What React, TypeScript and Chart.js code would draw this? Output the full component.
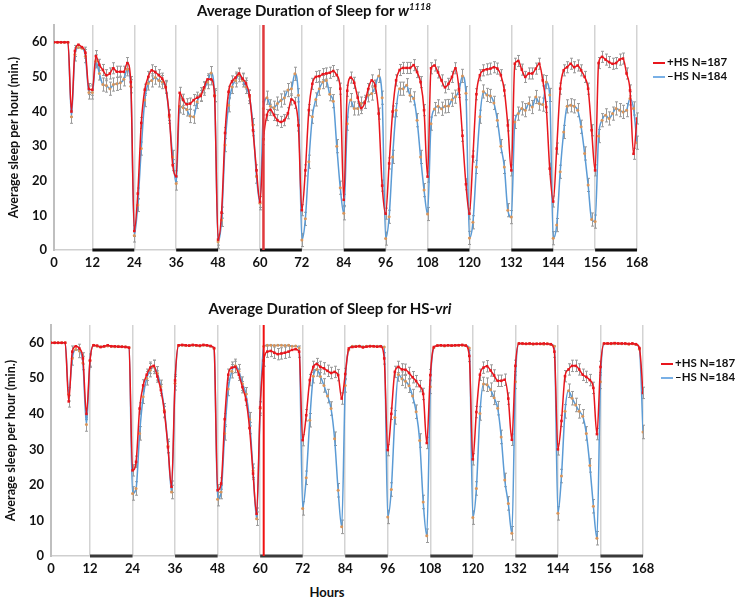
import React, { useEffect, useRef } from 'react';
import { Chart, registerables } from 'chart.js';

Chart.register(...registerables);

// ---------- categories / ticks ----------
const HOURS = Array.from({ length: 168 }, (_, i) => i + 1);
const X_TICKS = [1, 12, 24, 36, 48, 60, 72, 84, 96, 108, 120, 132, 144, 156, 168];
const X_TICK_LABELS = ['0', '12', '24', '36', '48', '60', '72', '84', '96', '108', '120', '132', '144', '156', '168'];
const Y_TICKS = [0, 10, 20, 30, 40, 50, 60];
const DARK_STARTS = [12, 36, 60, 84, 108, 132, 156];
const DARK_LENGTH = 12;
const PULSE_HOUR = 61;

// ---------- w1118 ----------
const W1118_PLUS = [
  60, 60, 60, 60, 60, 40, 57.5, 59.3, 58.6, 57, 46.5, 46.3,
  56, 53.5, 52, 50.5, 51, 52.5, 51.5, 51.5, 51.5, 54, 48.5, 5.5,
  16.3, 36.7, 46.3, 50, 51.9, 51.4, 50.5, 49.5, 47, 39, 24.5, 21.3,
  45.4, 43.4, 42.1, 42.3, 43.3, 44, 44.5, 47, 49.3, 49.3, 44.5, 3,
  10.8, 33.8, 45.7, 48.7, 49.8, 51, 49.5, 48.1, 44.7, 34.6, 23, 13.9,
  32, 39, 40.5, 39, 37.5, 37, 37.5, 39.5, 43.5, 42.5, 36, 11.5,
  23, 40.4, 48, 50, 50.2, 50.8, 51, 51.2, 51.7, 50.5, 46.6, 14.5,
  46, 49.8, 48.3, 44, 41, 42.5, 46.5, 49, 47.5, 39.4, 18.6, 10.5,
  25, 40, 49, 52, 52.6, 52.6, 52.6, 53.4, 51.4, 48.5, 40.4, 21.2,
  52.5, 53.3, 51.3, 49, 47, 48, 50, 52.5, 46.5, 33, 19, 10.5,
  27, 45, 50.5, 51.9, 52.2, 52.4, 52.8, 52.4, 50.5, 46.1, 36, 23,
  53.8, 54.6, 52.1, 50, 51, 51, 52.4, 53.8, 49, 41.3, 23.5, 14,
  29.3, 46.6, 51.9, 52.8, 53.8, 52.8, 53.3, 51.9, 50, 46.6, 34.6, 23,
  54, 55.8, 55, 54.3, 53.8, 54, 55, 55.3, 51, 46.1, 27.8, 38,
];
const W1118_MINUS = [
  60, 60, 60, 60, 60, 38.5, 56.5, 58.5, 58.3, 56, 45.5, 45.5,
  54.5, 51, 47.8, 47.5, 46.6, 47.8, 48, 48.3, 49.3, 52.2, 47.3, 4.2,
  13, 29.3, 43.3, 48.1, 49, 49.8, 49, 48.5, 47.1, 38.5, 26.9, 19.2,
  41.5, 41.1, 40.6, 38.7, 38.5, 42.8, 45, 46.6, 48.5, 51.1, 44.7, 2.4,
  8.7, 30.3, 41.8, 47.1, 49, 50.5, 49, 47.1, 44.2, 36.1, 21.2, 13.5,
  40.9, 44, 41.5, 41.1, 42.3, 43.2, 44, 46.2, 46.6, 50.9, 44.7, 2.9,
  9, 25.5, 38.5, 43.5, 46.6, 48.5, 49, 45, 43, 30, 18, 10.6,
  36.5, 43.3, 40.9, 40.9, 42.3, 42.8, 44.7, 45.2, 47.1, 50.3, 44, 3.3,
  9.6, 26.9, 40.4, 46.6, 46.6, 47.6, 44.7, 43.8, 37.5, 26.9, 17.3, 10.4,
  36.5, 40.7, 41.5, 40.8, 41.5, 41.6, 43.4, 44.3, 46, 50.3, 45.3, 3.5,
  8, 24, 38.5, 45.8, 44.8, 44.5, 42.5, 37.5, 30, 24, 11.5, 9.5,
  37, 39.4, 40.9, 40.4, 42.3, 41.3, 44.2, 42.3, 42, 48.5, 44.8, 3.4,
  7.2, 22.6, 34.1, 41.5, 41.8, 41.5, 40.4, 35.6, 27.9, 18.8, 8.8, 8.2,
  32.9, 37.5, 38.9, 38, 39.4, 40.9, 40.4, 39.9, 40.4, 43.8, 40.9, 31,
];

// ---------- HS-vri ----------
const VRI_PLUS = [
  60, 60, 60, 60, 60, 43.5, 57.5, 59, 58.4, 55.6, 40, 55,
  59.3, 59.2, 58.8, 59, 59.3, 59, 59, 58.9, 58.9, 58.8, 58.6, 24.1,
  26.5, 41.5, 48, 51, 53, 53.5, 50.5, 46.7, 40.5, 30.6, 19.5, 49.4,
  59.3, 59.4, 59.3, 59.2, 59.4, 59.3, 59.2, 59.4, 59.3, 59.1, 58.5, 18.5,
  20.4, 38.5, 51, 53, 53.2, 51, 47.5, 44, 36, 23.2, 11.9, 41.8,
  55, 57.5, 57.7, 57.2, 56.8, 57, 57.2, 57.5, 58, 58.2, 57.5, 32.6,
  39.6, 49.5, 53.2, 54, 53.2, 52.8, 52.1, 51.5, 51.8, 50.9, 44.3, 51.2,
  58.4, 58.8, 58.9, 59, 58.7, 58.9, 59, 59, 58.9, 59, 55.6, 29.8,
  40, 51.8, 53.2, 52.5, 52.4, 51.5, 50.3, 49.2, 47.8, 45.6, 31.8, 50.9,
  58.8, 59.2, 59.3, 59.2, 59.3, 59.2, 59.3, 59.3, 59.4, 59.2, 56.3, 27.2,
  40.5, 51, 53, 53.4, 52.2, 50.8, 49.3, 49.3, 49.6, 44.3, 32.7, 53.5,
  59.8, 59.8, 59.7, 59.8, 59.7, 59.7, 59.7, 59.8, 59.7, 59.6, 57.5, 30,
  38, 50.6, 52.5, 53.5, 53.5, 52.5, 51, 50.4, 49.5, 47.3, 34.3, 53.2,
  59.8, 59.8, 59.8, 59.9, 59.8, 59.8, 59.8, 59.7, 59.8, 59.6, 58.5, 45.9,
];
const VRI_MINUS = [
  60, 60, 60, 60, 60, 45.5, 55.6, 58.1, 57.7, 54.3, 37, 55,
  59.3, 59, 58.9, 59, 59.1, 59, 58.9, 59, 58.9, 58.9, 58.7, 17.6,
  19, 34.5, 44.8, 50, 52.3, 53.2, 51.4, 47.6, 41, 31, 18, 48.6,
  59.2, 59.3, 59.2, 59.2, 59.3, 59.2, 59.1, 59.3, 59.2, 59, 58.4, 16,
  18, 34.5, 47, 52, 53.5, 52, 48.5, 45.5, 38.5, 24, 10.5, 41.5,
  59, 59.3, 59.3, 59.2, 59.3, 59.3, 59.2, 59.3, 59, 59.1, 58.5, 13.4,
  22, 38.2, 50.6, 52.5, 50.5, 48, 45, 41.5, 33, 18.5, 8.2, 48,
  58, 59, 59, 59.1, 58.9, 59, 59.1, 59, 59, 59, 58.8, 11,
  18.7, 39, 51.1, 49.9, 49.2, 47.9, 45, 40.6, 32.5, 15.2, 5.7, 47.6,
  58.6, 59.2, 59.2, 59.1, 59.2, 59.2, 59.2, 59.3, 59.3, 59.2, 58.5, 10.8,
  19, 40.1, 48.4, 48.2, 46.8, 44.5, 41.6, 33.5, 21.4, 14.8, 6.4, 49,
  59.8, 59.7, 59.7, 59.7, 59.6, 59.7, 59.7, 59.6, 59.7, 59.5, 59, 12,
  22.5, 40.7, 46.5, 44.4, 42.5, 40.7, 39.3, 34.5, 25.5, 14, 5, 49,
  59.7, 59.8, 59.7, 59.7, 59.8, 59.7, 59.7, 59.6, 59.7, 59.5, 58.2, 34.9,
];

const SERIES_NAMES = ['+HS N=187', '\u2013HS N=184'];
const ERR_SIZE = [1.6, 1.9];

const RED = '#e8161d';
const BLUE = '#5b9bd5';
const FONT = 'Lato, "DejaVu Sans", sans-serif';

const overlayPlugin = {
  id: 'overlay',
  beforeDatasetsDraw(chart: any, _args: any, opts: any) {
    const { ctx } = chart;
    const xs = chart.scales.x;
    const ys = chart.scales.y;
    ctx.save();
    ctx.strokeStyle = '#9a9a9a';
    ctx.lineWidth = 1;
    chart.data.datasets.forEach((ds: any, di: number) => {
      const base = opts.errs[di];
      ds.data.forEach((pt: any) => {
        const e = pt.y >= 58 ? base * 0.15 : base;
        const px = Math.round(xs.getPixelForValue(pt.x)) + 0.5;
        const y1 = ys.getPixelForValue(Math.min(pt.y + e, 65));
        const y2 = ys.getPixelForValue(pt.y - e);
        ctx.beginPath();
        ctx.moveTo(px, y1);
        ctx.lineTo(px, y2);
        if (pt.y < 58) {
          ctx.moveTo(px - 1.5, y1);
          ctx.lineTo(px + 1.5, y1);
          ctx.moveTo(px - 1.5, y2);
          ctx.lineTo(px + 1.5, y2);
        }
        ctx.stroke();
      });
    });
    ctx.restore();
  },
  afterDatasetsDraw(chart: any, _args: any, opts: any) {
    const { ctx, chartArea } = chart;
    const xs = chart.scales.x;
    ctx.save();
    // dark periods
    ctx.strokeStyle = opts.darkColor;
    ctx.lineWidth = 3;
    DARK_STARTS.forEach((s) => {
      ctx.beginPath();
      ctx.moveTo(xs.getPixelForValue(s), chartArea.bottom);
      ctx.lineTo(xs.getPixelForValue(s + DARK_LENGTH), chartArea.bottom);
      ctx.stroke();
    });
    // heat-shock marker
    const px = xs.getPixelForValue(PULSE_HOUR);
    ctx.strokeStyle = opts.pulseColor;
    ctx.lineWidth = opts.pulseWidth;
    ctx.beginPath();
    ctx.moveTo(px, chartArea.top);
    ctx.lineTo(px, chartArea.bottom);
    ctx.stroke();
    ctx.restore();
  },
};

type Geo = {
  padLeft: number;
  padRight: number;
  padTop: number;
  padBottom: number;
  yAxisWidth: number;
  xAxisHeight: number;
  darkColor: string;
  pulseColor: string;
  pulseWidth: number;
};

function buildChart(canvas: HTMLCanvasElement, plus: number[], minus: number[], geo: Geo) {
  const tickFont = { family: FONT, size: 13, weight: 'bold' as const };
  return new Chart(canvas, {
    type: 'line',
    data: {
      datasets: [
        {
          label: SERIES_NAMES[0],
          data: HOURS.map((h, i) => ({ x: h, y: plus[i] })),
          borderColor: RED,
          backgroundColor: RED,
          borderWidth: 1.5,
          pointStyle: 'rect',
          pointRadius: 1.8,
          pointBorderWidth: 0,
          pointBackgroundColor: RED,
          cubicInterpolationMode: 'monotone',
        },
        {
          label: SERIES_NAMES[1],
          data: HOURS.map((h, i) => ({ x: h, y: minus[i] })),
          borderColor: BLUE,
          backgroundColor: BLUE,
          borderWidth: 1.5,
          pointStyle: 'circle',
          pointRadius: 1.5,
          pointBorderWidth: 0,
          pointBackgroundColor: '#d9955a',
          cubicInterpolationMode: 'monotone',
        },
      ],
    },
    options: {
      responsive: false,
      animation: false,
      events: [],
      layout: {
        padding: { left: geo.padLeft, right: geo.padRight, top: geo.padTop, bottom: geo.padBottom },
      },
      plugins: {
        legend: { display: false },
        tooltip: { enabled: false },
        title: { display: false },
        overlay: {
          errs: ERR_SIZE,
          darkColor: geo.darkColor,
          pulseColor: geo.pulseColor,
          pulseWidth: geo.pulseWidth,
        },
      } as any,
      scales: {
        x: {
          type: 'linear',
          min: 1,
          max: 168,
          afterBuildTicks: (scale: any) => {
            scale.ticks = X_TICKS.map((v) => ({ value: v }));
          },
          afterFit: (scale: any) => {
            scale.height = geo.xAxisHeight;
          },
          ticks: {
            autoSkip: false,
            maxRotation: 0,
            padding: 5,
            color: '#111',
            font: tickFont,
            callback: (v: any) => {
              const idx = X_TICKS.indexOf(Number(v));
              return idx >= 0 ? X_TICK_LABELS[idx] : '';
            },
          },
          grid: { display: true, drawTicks: false, color: '#d3d3d3', lineWidth: 1.5 },
          border: { display: true, color: '#cfcfcf', width: 1.5 },
        },
        y: {
          type: 'linear',
          min: 0,
          max: 65,
          afterBuildTicks: (scale: any) => {
            scale.ticks = Y_TICKS.map((v) => ({ value: v }));
          },
          afterFit: (scale: any) => {
            scale.width = geo.yAxisWidth;
          },
          ticks: { padding: 7, color: '#111', font: tickFont },
          grid: { display: false, drawTicks: false },
          border: { display: true, color: '#bfbfbf', width: 2 },
          title: {
            display: true,
            text: 'Average sleep per hour (min.)',
            color: '#111',
            font: { family: FONT, size: 12.5, weight: 'bold' },
            padding: { top: 2, bottom: 0 },
          },
        },
      },
    },
    plugins: [overlayPlugin as any],
  });
}

const legendText: React.CSSProperties = {
  position: 'absolute',
  fontFamily: FONT,
  fontWeight: 700,
  fontSize: 11.5,
  color: '#111',
  whiteSpace: 'nowrap',
  lineHeight: '14px',
};

function Legend({ left, top }: { left: number; top: number }) {
  return (
    <>
      <div style={{ position: 'absolute', left, top, width: 12, height: 2, background: RED }} />
      <div style={{ ...legendText, left: left + 14, top: top - 7 }}>{SERIES_NAMES[0]}</div>
      <div style={{ position: 'absolute', left, top: top + 14, width: 12, height: 2, background: '#79b0e6' }} />
      <div style={{ ...legendText, left: left + 14, top: top + 7 }}>{SERIES_NAMES[1]}</div>
    </>
  );
}

export default function App() {
  const topRef = useRef<HTMLCanvasElement>(null);
  const botRef = useRef<HTMLCanvasElement>(null);

  useEffect(() => {
    const c1 = buildChart(topRef.current!, W1118_PLUS, W1118_MINUS, {
      padLeft: 4,
      padRight: 100,
      padTop: 25,
      padBottom: 6,
      yAxisWidth: 50,
      xAxisHeight: 24,
      darkColor: '#111',
      pulseColor: '#e0393c',
      pulseWidth: 2.5,
    });
    const c2 = buildChart(botRef.current!, VRI_PLUS, VRI_MINUS, {
      padLeft: 1,
      padRight: 94,
      padTop: 35,
      padBottom: 0,
      yAxisWidth: 50,
      xAxisHeight: 24,
      darkColor: '#3a3a3a',
      pulseColor: '#f01010',
      pulseWidth: 2,
    });
    return () => {
      c1.destroy();
      c2.destroy();
    };
  }, []);

  const titleStyle: React.CSSProperties = {
    position: 'absolute',
    transform: 'translateX(-50%)',
    fontFamily: FONT,
    fontWeight: 700,
    fontSize: 15,
    color: '#111',
    whiteSpace: 'nowrap',
    lineHeight: '18px',
  };

  return (
    <div style={{ position: 'absolute', left: 0, top: 0, width: 737, height: 599, background: '#fff', overflow: 'hidden' }}>
      <canvas ref={topRef} width={737} height={280} style={{ position: 'absolute', left: 0, top: 0 }} />
      <canvas ref={botRef} width={737} height={290} style={{ position: 'absolute', left: 0, top: 290 }} />
      <div style={{ ...titleStyle, left: 314, top: 1 }}>
        Average Duration of Sleep for <i>w</i>
        <span style={{ fontSize: 9.5, fontStyle: 'italic', verticalAlign: 'top', lineHeight: '12px' }}>1118</span>
      </div>
      <div style={{ ...titleStyle, left: 330, top: 299 }}>
        Average Duration of Sleep for HS-<i>vri</i>
      </div>
      <Legend left={653} top={62} />
      <Legend left={661} top={363} />
      <div style={{ ...titleStyle, left: 327, top: 583, fontSize: 13 }}>Hours</div>
    </div>
  );
}
